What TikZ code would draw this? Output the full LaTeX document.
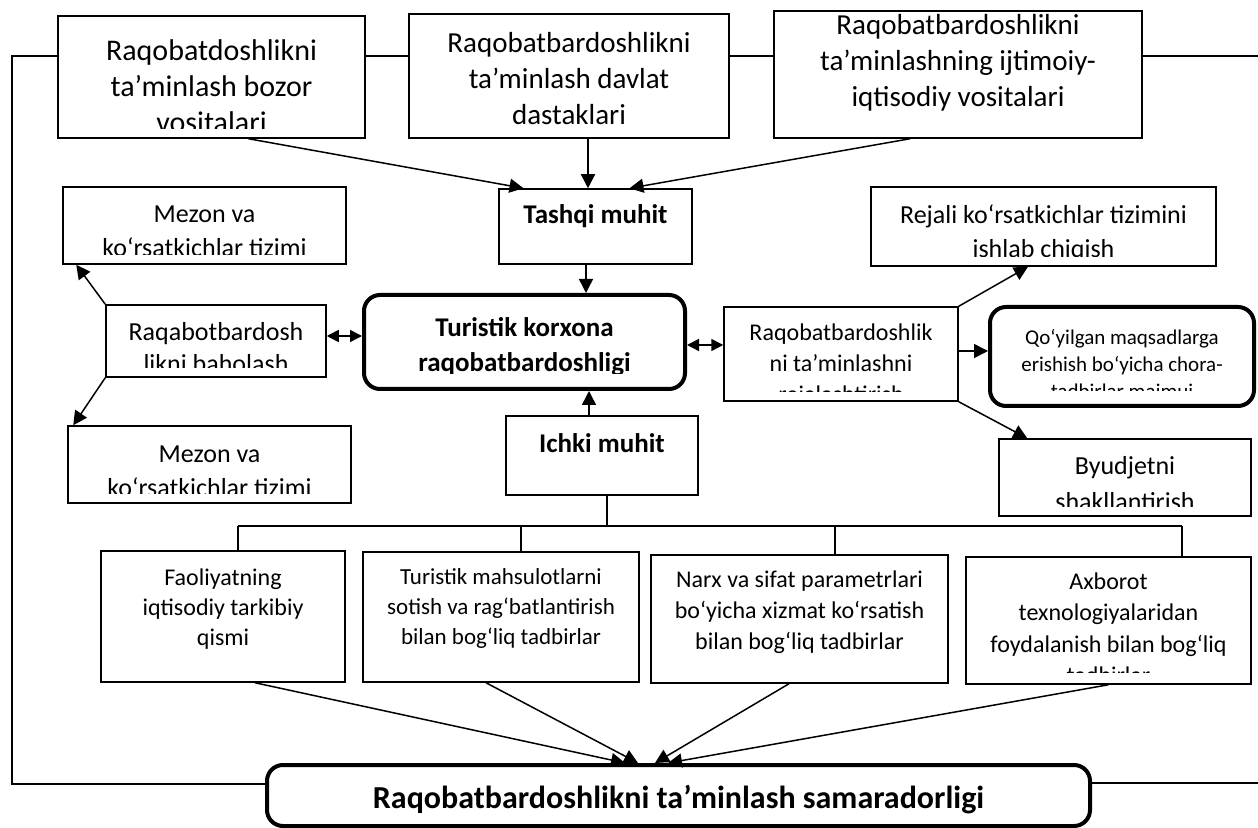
\documentclass[tikz,border=0pt]{standalone}
\usepackage{fontspec}
\setmainfont{Carlito}
\usetikzlibrary{arrows.meta,fit}
\begin{document}
\begin{tikzpicture}[x=0.5pt,y=-0.5pt,
  box/.style={draw=drawColor,line width=0.75pt,inner sep=0pt,fill=fillColor},
  heavy/.style={draw=drawColor,line width=2pt,rounded corners=8pt,inner sep=0pt,fill=fillColor},
  words/.style={text=drawColor,align=center,anchor=base,inner sep=0pt,outer sep=0pt},
  link/.style={draw=drawColor,line width=0.75pt},
  arrow/.style={link,-{Triangle[length=7pt,width=7pt]}},
  twin/.style={link,{Triangle[length=6pt,width=6pt]}-{Triangle[length=6pt,width=6pt]}}]
\definecolor{fillColor}{RGB}{255,255,255}
\definecolor{drawColor}{RGB}{0,0,0}
\path[use as bounding box,fill=fillColor] (0,0) rectangle (1258,828);

% top row
\node[box,fit={(58,16) (365,138)}] (mkt) {};
\node[box,fit={(409,14) (729,138)}] (gov) {};
\node[box,fit={(774,11) (1142,138)}] (soc) {};
\begin{scope}
\path[clip] (mkt.north west) rectangle ([yshift=5pt]mkt.south east);
\node[words,font=\fontsize{15}{18}\selectfont] (mkt-t) at ([yshift=-58.5pt]mkt.north) {Raqobatdoshlikni\\ta’minlash bozor\\vositalari};
\end{scope}
\begin{scope}
\path[clip] (gov.north west) rectangle ([yshift=5pt]gov.south east);
\node[words,font=\fontsize{14.5}{18}\selectfont] (gov-t) at ([yshift=-55.5pt]gov.north) {Raqobatbardoshlikni\\ta’minlash davlat\\dastaklari};
\end{scope}
\begin{scope}
\path[clip] (soc.north west) rectangle ([yshift=5pt]soc.south east);
\node[words,font=\fontsize{14.5}{18}\selectfont] (soc-t) at ([yshift=-48pt]soc.north) {Raqobatbardoshlikni\\ta’minlashning ijtimoiy-\\iqtisodiy vositalari};
\end{scope}

% environment and firm
\node[box,fit={(499,189) (692,264)}] (ext) {};
\node[words,font=\bfseries\fontsize{13.5}{17.5}\selectfont] (ext-t) at ([yshift=-17.5pt]ext.north) {Tashqi muhit};
\node[heavy,fit={(364,295) (685,389)}] (firm) {};
\begin{scope}
\path[clip] (firm.north west) rectangle ([yshift=8.5pt]firm.south east);
\node[words,font=\bfseries\fontsize{13.5}{17.5}\selectfont] (firm-t) at ([yshift=-39.5pt]firm.north) {Turistik korxona\\raqobatbardoshligi};
\end{scope}
\node[box,fit={(506,416) (698,495)}] (int) {};
\node[words,font=\bfseries\fontsize{13.5}{17.5}\selectfont] (int-t) at ([yshift=-18.5pt]int.north) {Ichki muhit};

% left side
\node[box,fit={(63,187) (346,264)}] (crit1) {};
\node[box,fit={(106,305) (326,377)}] (eval) {};
\node[box,fit={(68,426) (351,503)}] (crit2) {};
\begin{scope}
\path[clip] (crit1.north west) rectangle ([yshift=5pt]crit1.south east);
\node[words,font=\fontsize{13}{17}\selectfont] (crit1-t) at ([yshift=-35pt]crit1.north) {Mezon va\\ko‘rsatkichlar tizimi};
\end{scope}
\begin{scope}
\path[clip] (eval.north west) rectangle ([yshift=5pt]eval.south east);
\node[words,font=\fontsize{13}{16}\selectfont] (eval-t) at ([yshift=-34pt]eval.north) {Raqabotbardosh\\likni baholash};
\end{scope}
\begin{scope}
\path[clip] (crit2.north west) rectangle ([yshift=5pt]crit2.south east);
\node[words,font=\fontsize{13}{17}\selectfont] (crit2-t) at ([yshift=-35.5pt]crit2.north) {Mezon va\\ko‘rsatkichlar tizimi};
\end{scope}

% right side
\node[box,fit={(871,187) (1216,266)}] (rej) {};
\node[box,fit={(724,307) (958,401)}] (plan) {};
\node[heavy,fit={(990,307) (1254,406)}] (goal) {};
\node[box,fit={(999,439) (1251,516)}] (bud) {};
\begin{scope}
\path[clip] (rej.north west) rectangle ([yshift=5pt]rej.south east);
\node[words,font=\fontsize{13}{17}\selectfont] (rej-t) at ([yshift=-35.5pt]rej.north) {Rejali ko‘rsatkichlar tizimini\\ishlab chiqish};
\end{scope}
\begin{scope}
\path[clip] (plan.north west) rectangle ([yshift=5pt]plan.south east);
\node[words,font=\fontsize{12}{15.5}\selectfont] (plan-t) at ([yshift=-48pt]plan.north) {Raqobatbardoshlik\\ni ta’minlashni\\rejalashtirish};
\end{scope}
\begin{scope}
\path[clip] (goal.north west) rectangle ([yshift=8.5pt]goal.south east);
\node[words,font=\fontsize{10.5}{13.5}\selectfont] (goal-t) at ([yshift=-47pt]goal.north) {Qo‘yilgan maqsadlarga\\erishish bo‘yicha chora-\\tadbirlar majmui};
\end{scope}
\begin{scope}
\path[clip] (bud.north west) rectangle ([yshift=5pt]bud.south east);
\node[words,font=\fontsize{13}{18}\selectfont] (bud-t) at ([yshift=-36pt]bud.north) {Byudjetni\\shakllantirish};
\end{scope}

% bottom row
\node[box,fit={(101,551) (345,682)}] (act) {};
\node[box,fit={(363,552) (639,682)}] (sale) {};
\node[box,fit={(651,555) (948,683)}] (price) {};
\node[box,fit={(966,557) (1251,684)}] (info) {};
\node[words,font=\fontsize{12}{15}\selectfont] (act-t) at ([yshift=-47.5pt]act.north) {Faoliyatning\\iqtisodiy tarkibiy\\qismi};
\node[words,font=\fontsize{11.5}{15}\selectfont] (sale-t) at ([yshift=-46.5pt]sale.north) {Turistik mahsulotlarni\\sotish va rag‘batlantirish\\bilan bog‘liq tadbirlar};
\node[words,font=\fontsize{12}{15.5}\selectfont] (price-t) at ([yshift=-47.5pt]price.north) {Narx va sifat parametrlari\\bo‘yicha xizmat ko‘rsatish\\bilan bog‘liq tadbirlar};
\begin{scope}
\path[clip] (info.north west) rectangle ([yshift=6pt]info.south east);
\node[words,font=\fontsize{12}{15.75}\selectfont] (info-t) at ([yshift=-63.75pt]info.north) {Axborot\\texnologiyalaridan\\foydalanish bilan bog‘liq\\tadbirlar};
\end{scope}
\node[heavy,fit={(267,765) (1090,826)}] (res) {};
\node[words,font=\bfseries\fontsize{16}{19}\selectfont] (res-t) at ([yshift=-22.5pt]res.north) {Raqobatbardoshlikni ta’minlash samaradorligi};

% connectors
\coordinate (band) at (0,56);
\coordinate (fbl) at (12,784);
\coordinate (fbr) at (1262,783);
\coordinate (d0) at (607,526);
\coordinate (d1) at (238,526);
\coordinate (d2) at (521,526);
\coordinate (d3) at (835,526);
\coordinate (d4) at (1182,526);

\draw[link] (mkt.east |- band) -- (gov.west |- band);
\draw[link] (gov.east |- band) -- (soc.west |- band);
\draw[link] (mkt.west |- band) -| (fbl) -- (fbl -| res.west);
\draw[link] (soc.east |- band) -| (fbr) -- (fbr -| res.east);

\draw[arrow] ([xshift=18.5pt]mkt.south) -- ([xshift=-36pt]ext.north);
\draw[arrow] ([xshift=9.5pt]gov.south) -- ([xshift=-3.75pt]ext.north);
\draw[arrow] ([xshift=-24pt]soc.south) -- ([xshift=17pt]ext.north);
\draw[arrow] ([xshift=-4.75pt]ext.south) -- ([xshift=30.75pt]firm.north);
\draw[arrow] ([xshift=-6.5pt]int.north) -- ([xshift=32.25pt]firm.south);

\draw[twin] ([yshift=2.5pt]eval.east) -- ([yshift=3pt]firm.west);
\draw[twin] ([yshift=-1.5pt]firm.east) -- ([yshift=4.5pt]plan.west);
\draw[arrow] (eval.north west) -- ([xshift=7pt]crit1.south west);
\draw[arrow] (eval.south west) -- ([xshift=3pt]crit2.north west);
\draw[arrow] (plan.north east) -- ([xshift=-7.75pt]rej.south);
\draw[arrow] ([yshift=1.5pt]plan.east) -- ([yshift=2.75pt]goal.west);
\draw[arrow] (plan.south east) -- ([xshift=14.5pt]bud.north west);

\draw[link] (d0 |- int.south) -- (d0);
\draw[link] (d1) -- (d4);
\draw[link] (d1) -- (d1 |- act.north);
\draw[link] (d2) -- (d2 |- sale.north);
\draw[link] (d3) -- (d3 |- price.north);
\draw[link] (d4) -- (d4 |- info.north);

\draw[arrow] ([xshift=16pt]act.south) -- ([xshift=-26.75pt]res.north);
\draw[arrow] ([xshift=-7.5pt]sale.south) -- ([xshift=-20.25pt]res.north);
\draw[arrow] ([xshift=-5.25pt]price.south) -- ([xshift=-11.75pt]res.north);
\draw[arrow] (info.south) -- ([xshift=-5.25pt]res.north);
\end{tikzpicture}
\end{document}
